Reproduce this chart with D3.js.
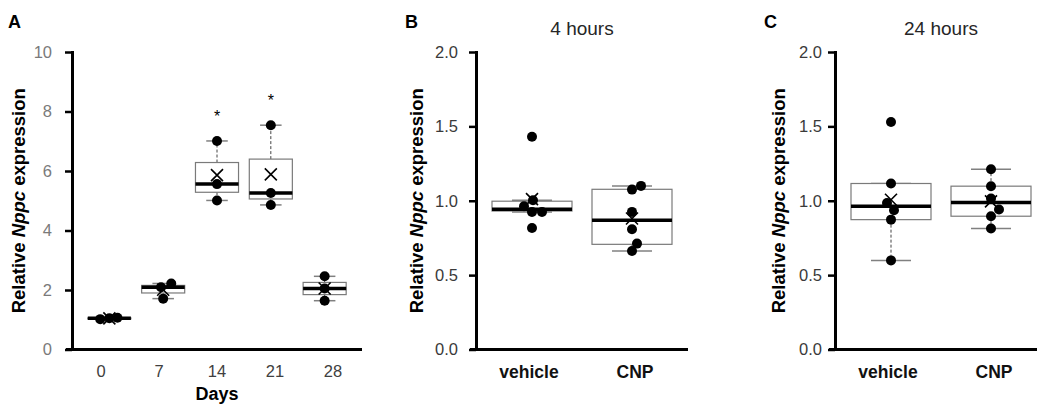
<!DOCTYPE html>
<html>
<head>
<meta charset="utf-8">
<script src="https://cdn.jsdelivr.net/npm/d3@7"></script>
<style>
  body { margin: 0; background: #fff; }
  svg { display: block; font-family: "Liberation Sans", Arial, sans-serif; }
</style>
</head>
<body>
<svg id="chart" width="1037" height="409"></svg>
<script>
// ---- panel A : days ----
const days = ['0', '7', '14', '21', '28'];
const daysPoints = [
    [1.02, 1.05, 1.07],
    [2.22, 2.09, 1.71],
    [7.01, 5.56, 5.01],
    [7.54, 5.26, 4.86],
    [2.46, 2.05, 1.64]
];
const daysJitter = [
    [-0.17, 0, 0.15],
    [0.15, -0.04, 0],
    [0, 0, 0],
    [0, 0, 0],
    [0, 0, 0]
];
const daysQ1 = [1.03, 1.90, 5.285, 5.06, 1.845];
const daysMedian = [1.05, 2.09, 5.56, 5.26, 2.05];
const daysQ3 = [1.06, 2.155, 6.285, 6.40, 2.255];
const daysWhiskerLo = [1.02, 1.71, 5.01, 4.86, 1.64];
const daysWhiskerHi = [1.07, 2.22, 7.01, 7.54, 2.46];
const daysSig = ['', '', '*', '*', ''];
const daysTicks = [0, 2, 4, 6, 8, 10];

// ---- panels B and C : treatment ----
const groups = ['vehicle', 'CNP'];
const fourHourPoints = [
    [1.43, 1.003, 0.963, 0.925, 0.925, 0.817],
    [1.10, 1.075, 0.925, 0.808, 0.712, 0.662]
];
const fourHourJitter = [
    [0, 0.01, -0.08, 0, 0.1, 0],
    [0.09, 0, 0, 0, 0.05, 0]
];
const fourHourQ1 = [0.931, 0.707];
const fourHourMedian = [0.943, 0.869];
const fourHourQ3 = [0.997, 1.077];
const fourHourWhiskerLo = [0.925, 0.662];
const fourHourWhiskerHi = [1.003, 1.10];

const dayPoints = [
    [1.53, 1.116, 0.985, 0.936, 0.873, 0.599],
    [1.212, 1.098, 1.015, 0.941, 0.896, 0.813]
];
const dayJitter = [
    [0, 0, -0.04, 0.03, 0, 0],
    [0, 0, 0, 0.08, 0, 0]
];
const dayQ1 = [0.873, 0.896];
const dayMedian = [0.963, 0.988];
const dayQ3 = [1.116, 1.098];
const dayWhiskerLo = [0.599, 0.813];
const dayWhiskerHi = [1.116, 1.212];
const ratioTicks = [0, 0.5, 1.0, 1.5, 2.0];

const svg = d3.select('#chart');
const plotTop = 52, plotBottom = 349.5;

function drawPanel(p) {
    const g = svg.append('g');
    const y = d3.scaleLinear().domain(p.yDomain).range([plotBottom, plotTop]);
    const xLab = d3.scaleBand().domain(p.cats).range([p.left, p.right]);
    const xBox = d3.scalePoint().domain(p.cats).range([p.left, p.right]).padding(p.boxPad);
    const step = xBox.step();
    const boxW = step * 0.8, capW = step * 0.4;

    // boxes
    p.cats.forEach((c, i) => {
        const cx = xBox(c);
        const bg = g.append('g');
        // whiskers
        bg.append('line')
            .attr('x1', cx).attr('x2', cx)
            .attr('y1', y(p.q3[i])).attr('y2', y(p.hi[i]))
            .attr('stroke', '#444').attr('stroke-width', 1).attr('stroke-dasharray', '3,2');
        bg.append('line')
            .attr('x1', cx).attr('x2', cx)
            .attr('y1', y(p.q1[i])).attr('y2', y(p.lo[i]))
            .attr('stroke', '#444').attr('stroke-width', 1).attr('stroke-dasharray', '3,2');
        [p.lo[i], p.hi[i]].forEach(v => {
            bg.append('line')
                .attr('x1', cx - capW / 2).attr('x2', cx + capW / 2)
                .attr('y1', y(v)).attr('y2', y(v))
                .attr('stroke', '#808080').attr('stroke-width', 1.5);
        });
        bg.append('rect')
            .attr('x', cx - boxW / 2).attr('width', boxW)
            .attr('y', y(p.q3[i])).attr('height', y(p.q1[i]) - y(p.q3[i]))
            .attr('fill', '#fff').attr('stroke', '#7a7a7a').attr('stroke-width', 1.2);
        bg.append('line')
            .attr('x1', cx - boxW / 2).attr('x2', cx + boxW / 2)
            .attr('y1', y(p.med[i])).attr('y2', y(p.med[i]))
            .attr('stroke', '#000').attr('stroke-width', 3.5);
        // mean
        const my = y(d3.mean(p.points[i])), s = 6;
        bg.append('path')
            .attr('d', `M${cx - s},${my - s}L${cx + s},${my + s}M${cx - s},${my + s}L${cx + s},${my - s}`)
            .attr('stroke', '#000').attr('stroke-width', 1.6).attr('fill', 'none');
        // points
        bg.selectAll('circle')
            .data(p.points[i])
            .enter().append('circle')
            .attr('cx', (d, j) => cx + p.jitter[i][j] * step)
            .attr('cy', d => y(d))
            .attr('r', 5)
            .attr('fill', '#000');
        if (p.sig && p.sig[i]) {
            bg.append('text')
                .attr('x', cx).attr('y', y(d3.max(p.points[i])) - 19)
                .attr('text-anchor', 'middle')
                .attr('font-size', 16).attr('fill', '#000')
                .text(p.sig[i]);
        }
    });

    // axes
    const yAxis = g.append('g')
        .attr('transform', `translate(${p.left},0)`)
        .call(d3.axisLeft(y).tickValues(p.ticks).tickFormat(p.fmt)
            .tickSize(7).tickSizeOuter(0).tickPadding(p.tickPad));
    yAxis.select('.domain').remove();
    yAxis.selectAll('.tick line').attr('stroke', '#000').attr('stroke-width', 2.5);
    yAxis.selectAll('text').style('font-size', '16.5px').style('fill', p.yTickColor)
        .attr('font-family', null);

    const xAxis = g.append('g')
        .attr('transform', `translate(0,${plotBottom})`)
        .call(d3.axisBottom(xLab).tickSize(0).tickSizeOuter(0).tickPadding(16));
    xAxis.select('.domain').remove();
    xAxis.selectAll('text').style('font-size', p.xFontSize + 'px').style('font-weight', p.xWeight)
        .style('fill', p.xTickColor).attr('font-family', null);

    // axis lines along the scale ranges
    g.append('line')
        .attr('x1', p.left + 0.5).attr('x2', p.left + 0.5)
        .attr('y1', y.range()[0] + 1.5).attr('y2', y.range()[1] - 1)
        .attr('stroke', '#000').attr('stroke-width', 3);
    g.append('line')
        .attr('x1', xLab.range()[0] - 6).attr('x2', xLab.range()[1])
        .attr('y1', plotBottom).attr('y2', plotBottom)
        .attr('stroke', '#000').attr('stroke-width', 3);

    // y label
    const yl = g.append('text')
        .attr('transform', `translate(${p.yLabelX},${(plotTop + plotBottom) / 2}) rotate(-90)`)
        .attr('text-anchor', 'middle')
        .attr('font-size', 18.5).attr('font-weight', 'bold').attr('fill', '#000');
    yl.append('tspan').text('Relative ');
    yl.append('tspan').attr('font-style', 'italic').text('Nppc');
    yl.append('tspan').text(' expression');

    // panel letter
    g.append('text')
        .attr('x', p.letterX).attr('y', 28)
        .attr('font-size', 18).attr('font-weight', 'bold')
        .text(p.letter);

    if (p.title) {
        g.append('text')
            .attr('x', (p.left + p.right) / 2).attr('y', 35)
            .attr('text-anchor', 'middle')
            .attr('font-size', 19).attr('fill', '#262626')
            .text(p.title);
    }
    if (p.xTitle) {
        g.append('text')
            .attr('x', (p.left + p.right) / 2).attr('y', 400)
            .attr('text-anchor', 'middle')
            .attr('font-size', 18).attr('font-weight', 'bold')
            .text(p.xTitle);
    }
}

drawPanel({
    letter: 'A', letterX: 8, cats: days, points: daysPoints, jitter: daysJitter,
    q1: daysQ1, med: daysMedian, q3: daysQ3, lo: daysWhiskerLo, hi: daysWhiskerHi, sig: daysSig,
    yDomain: [0, 10], ticks: daysTicks, fmt: d3.format('d'),
    left: 72, right: 362, boxPad: 0.694, tickPad: 13, yLabelX: 25,
    yTickColor: '#7a7a7a', xTickColor: '#404040', xFontSize: 16.5, xWeight: 'normal',
    xTitle: 'Days'
});
drawPanel({
    letter: 'B', letterX: 405, cats: groups, points: fourHourPoints, jitter: fourHourJitter,
    q1: fourHourQ1, med: fourHourMedian, q3: fourHourQ3, lo: fourHourWhiskerLo, hi: fourHourWhiskerHi,
    yDomain: [0, 2], ticks: ratioTicks, fmt: d3.format('.1f'),
    left: 476, right: 688, boxPad: 0.56, tickPad: 11, yLabelX: 423,
    yTickColor: '#3a3a3a', xTickColor: '#111', xFontSize: 17.5, xWeight: 'bold',
    title: '4 hours'
});
drawPanel({
    letter: 'C', letterX: 764, cats: groups, points: dayPoints, jitter: dayJitter,
    q1: dayQ1, med: dayMedian, q3: dayQ3, lo: dayWhiskerLo, hi: dayWhiskerHi,
    yDomain: [0, 2], ticks: ratioTicks, fmt: d3.format('.1f'),
    left: 835, right: 1047, boxPad: 0.56, tickPad: 6, yLabelX: 785,
    yTickColor: '#3a3a3a', xTickColor: '#111', xFontSize: 17.5, xWeight: 'bold',
    title: '24 hours'
});
</script>
</body>
</html>
